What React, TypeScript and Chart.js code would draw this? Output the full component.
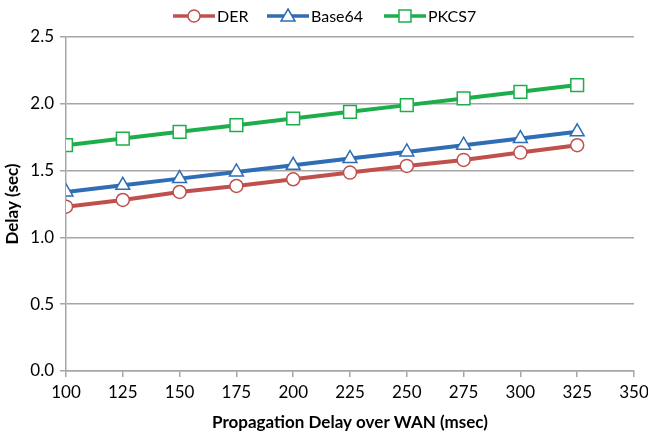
import React, { useEffect, useRef } from "react";
import { Chart, registerables } from "chart.js";

Chart.register(...registerables);

const xValues = [100, 125, 150, 175, 200, 225, 250, 275, 300, 325];
const derValues = [1.23, 1.28, 1.34, 1.385, 1.435, 1.485, 1.535, 1.58, 1.635, 1.69];
const base64Values = [1.34, 1.39, 1.44, 1.49, 1.54, 1.59, 1.64, 1.69, 1.74, 1.79];
const pkcs7Values = [1.69, 1.74, 1.79, 1.84, 1.89, 1.94, 1.99, 2.04, 2.09, 2.14];
const seriesNames = ["DER", "Base64", "PKCS7"];
const xTitle = "Propagation Delay over WAN (msec)";
const yTitle = "Delay (sec)";

const FONT = "Lato, 'Open Sans', sans-serif";
const RED = "#C0504D";
const BLUE = "#2F6DB5";
const GREEN = "#1DAE4B";

function drawMarker(ctx: CanvasRenderingContext2D, style: string, x: number, y: number, color: string) {
  ctx.save();
  ctx.fillStyle = "#ffffff";
  ctx.strokeStyle = color;
  ctx.lineWidth = 1.5;
  ctx.beginPath();
  if (style === "circle") {
    ctx.arc(x, y, 6, 0, Math.PI * 2);
  } else if (style === "triangle") {
    ctx.moveTo(x, y - 7);
    ctx.lineTo(x + 7, y + 5);
    ctx.lineTo(x - 7, y + 5);
    ctx.closePath();
  } else {
    ctx.rect(x - 6, y - 6, 12, 12);
  }
  ctx.fill();
  ctx.stroke();
  ctx.restore();
}

const legendPlugin = {
  id: "customLegend",
  afterDraw(chart: any) {
    const ctx = chart.ctx as CanvasRenderingContext2D;
    const items = [
      { name: seriesNames[0], color: RED, style: "circle", x: 173 },
      { name: seriesNames[1], color: BLUE, style: "triangle", x: 267 },
      { name: seriesNames[2], color: GREEN, style: "rect", x: 384 },
    ];
    const y = 16;
    ctx.save();
    items.forEach((it) => {
      ctx.strokeStyle = it.color;
      ctx.lineWidth = 3.5;
      ctx.beginPath();
      ctx.moveTo(it.x, y);
      ctx.lineTo(it.x + 42, y);
      ctx.stroke();
      drawMarker(ctx, it.style, it.x + 21, y, it.color);
      ctx.fillStyle = "#000";
      ctx.font = `16px ${FONT}`;
      ctx.textBaseline = "middle";
      ctx.textAlign = "left";
      ctx.fillText(it.name, it.x + 44, y + 1);
    });
    ctx.restore();
  },
};

function toPoints(ys: number[]) {
  return xValues.map((x, i) => ({ x, y: ys[i] }));
}

export default function App() {
  const canvasRef = useRef<HTMLCanvasElement | null>(null);

  useEffect(() => {
    document.body.style.margin = "0";
    const canvas = canvasRef.current;
    if (!canvas) return;
    const mk = (label: string, data: number[], color: string, style: string, r: number) => ({
      label,
      data: toPoints(data),
      borderColor: color,
      backgroundColor: color,
      borderWidth: 4,
      pointStyle: style,
      pointRadius: r,
      pointHoverRadius: r,
      pointBackgroundColor: "#ffffff",
      pointBorderColor: color,
      pointBorderWidth: 1.5,
      tension: 0,
    });
    const chart = new Chart(canvas, {
      type: "line",
      data: {
        datasets: [
          mk(seriesNames[2], pkcs7Values, GREEN, "rect", 9),
          mk(seriesNames[1], base64Values, BLUE, "triangle", 8),
          mk(seriesNames[0], derValues, RED, "circle", 6.5),
        ],
      },
      plugins: [legendPlugin],
      options: {
        animation: false,
        responsive: false,
        maintainAspectRatio: false,
        layout: { padding: { top: 37, right: 0, left: 2, bottom: 0 } },
        plugins: { legend: { display: false }, tooltip: { enabled: false } },
        scales: {
          x: {
            type: "linear",
            min: 100,
            max: 350,
            ticks: {
              stepSize: 25,
              color: "#000",
              font: { family: FONT, size: 17 },
              padding: 5,
              maxRotation: 0,
            },
            grid: {
              drawOnChartArea: false,
              drawTicks: true,
              tickLength: 6,
              color: "#A6A6A6",
              lineWidth: 1.5,
            },
            border: { color: "#A6A6A6", width: 1.5 },
            title: {
              display: true,
              text: xTitle,
              color: "#000",
              font: { family: FONT, size: 17, weight: "bold" },
              padding: { top: 8, bottom: 0 },
            },
            afterFit(scale: any) {
              scale.height = 62;
              scale.paddingRight = 14;
              scale.paddingLeft = 0;
            },
          },
          y: {
            min: 0,
            max: 2.5,
            ticks: {
              stepSize: 0.5,
              color: "#000",
              font: { family: FONT, size: 17 },
              padding: 6,
              callback: (v: any) => Number(v).toFixed(1),
            },
            grid: {
              color: "#A6A6A6",
              lineWidth: 1.5,
              tickLength: 6,
            },
            border: { color: "#A6A6A6", width: 1.5 },
            title: {
              display: true,
              text: yTitle,
              color: "#000",
              font: { family: FONT, size: 17, weight: "bold" },
              padding: { top: 0, bottom: 0 },
            },
            afterFit(scale: any) {
              scale.width = 64;
            },
          },
        },
      },
    } as any);
    return () => chart.destroy();
  }, []);

  return (
    <div style={{ width: 648, height: 433, background: "#fff" }}>
      <canvas ref={canvasRef} width={648} height={433} style={{ width: 648, height: 433 }} />
    </div>
  );
}
